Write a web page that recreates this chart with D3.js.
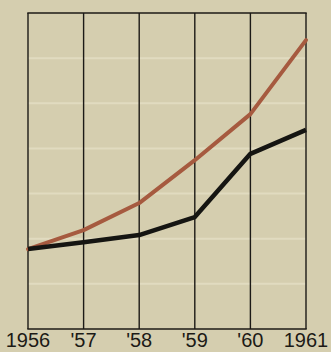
<!DOCTYPE html>
<html><head><meta charset="utf-8">
<script src="https://cdn.jsdelivr.net/npm/d3@7"></script>
<style>
html,body{margin:0;padding:0;background:#d5ceaf;}
svg{display:block;}
</style></head>
<body>
<script>
const years = ["1956", "'57", "'58", "'59", "'60", "1961"];
const redSeries = [1.77, 2.19, 2.79, 3.74, 4.76, 6.4];
const blackSeries = [1.77, 1.92, 2.08, 2.48, 3.88, 4.41];
const yTicks = [0, 1, 2, 3, 4, 5, 6, 7];

const W = 331, H = 352;
const svg = d3.select("body").append("svg").attr("width", W).attr("height", H);
svg.append("rect").attr("width", W).attr("height", H).attr("fill", "#d5ceaf");

const x = d3.scalePoint().domain(years).range([28, 306]);
const y = d3.scaleLinear().domain([0, 7]).range([329, 13]);

// light horizontal grid lines
svg.append("g").selectAll("line").data(yTicks.filter(d => d > 0 && d < 7)).join("line")
  .attr("x1", 28).attr("x2", 306)
  .attr("y1", d => y(d)).attr("y2", d => y(d))
  .attr("stroke", "#e1dbc0").attr("stroke-width", 2);

// vertical grid lines
svg.append("g").selectAll("line").data(years).join("line")
  .attr("x1", d => x(d)).attr("x2", d => x(d))
  .attr("y1", y(7)).attr("y2", y(0))
  .attr("stroke", "#1c1a16").attr("stroke-width", 1.4);

// top and bottom border
svg.append("g").selectAll("line").data([0, 7]).join("line")
  .attr("x1", x(years[0]) - 0.7).attr("x2", x(years[years.length - 1]) + 0.7)
  .attr("y1", d => y(d)).attr("y2", d => y(d))
  .attr("stroke", "#1c1a16").attr("stroke-width", 1.5);

const line = d3.line().x((d, i) => x(years[i])).y(d => y(d));

svg.append("path").datum(redSeries).attr("d", line)
  .attr("fill", "none").attr("stroke", "#a65a3f").attr("stroke-width", 4)
  .attr("stroke-linecap", "round").attr("stroke-linejoin", "round");

svg.append("path").datum(blackSeries).attr("d", line)
  .attr("fill", "none").attr("stroke", "#151512").attr("stroke-width", 4.5)
  .attr("stroke-linecap", "butt").attr("stroke-linejoin", "round");

// x labels
svg.append("g").selectAll("text").data(years).join("text")
  .attr("x", d => x(d)).attr("y", 347)
  .attr("text-anchor", "middle")
  .attr("font-family", "Liberation Sans, Arial, sans-serif")
  .attr("font-size", 20)
  .attr("fill", "#1c1a16")
  .text(d => d);
</script>
</body></html>
